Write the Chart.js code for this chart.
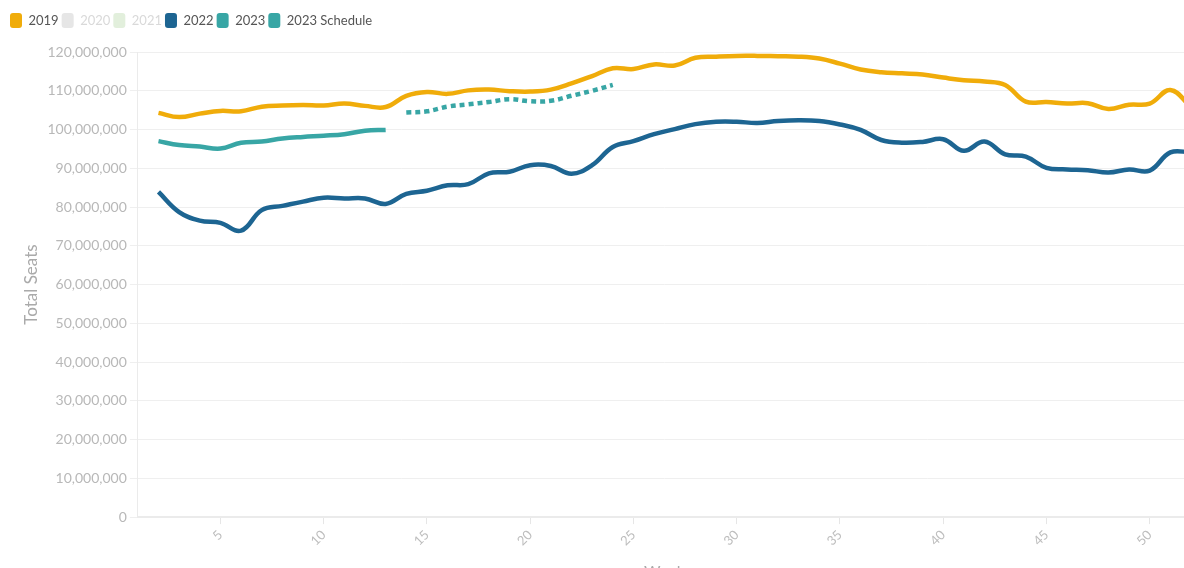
<!DOCTYPE html>
<html>
<head>
<meta charset="utf-8">
<script src="https://cdn.jsdelivr.net/npm/chart.js@4.4.0/dist/chart.umd.min.js"></script>
<style>
  html,body{margin:0;padding:0;background:#fff;overflow:hidden;}
  #wrap{width:1191px;height:585px;}
</style>
</head>
<body>
<div id="wrap"><canvas id="grafico" width="1191" height="585"></canvas></div>
<script>
// weeks on the x axis
const weeks = [2,3,4,5,6,7,8,9,10,11,12,13,14,15,16,17,18,19,20,21,22,23,24,25,26,27,
  28,29,30,31,32,33,34,35,36,37,38,39,40,41,42,43,44,45,46,47,48,49,50,51,52];
const xTicks = [5,10,15,20,25,30,35,40,45,50];

// total seats, millions
const seats2019 = [104.3,103.2,104.1,104.8,104.7,105.9,106.2,106.3,106.2,106.7,106.1,105.8,
  108.7,109.7,109.2,110.1,110.3,109.9,109.8,110.3,111.9,113.8,115.8,115.6,116.8,116.5,
  118.5,118.8,119.0,119.0,118.9,118.8,118.3,117.0,115.5,114.8,114.5,114.2,113.4,112.7,
  112.4,111.5,107.2,107.1,106.7,106.8,105.3,106.4,106.7,110.2,105.8];
const seats2022 = [83.9,78.7,76.5,75.9,73.9,79.2,80.3,81.4,82.4,82.2,82.2,80.8,
  83.4,84.2,85.6,85.9,88.7,89.1,90.8,90.6,88.6,90.8,95.5,97.0,98.8,100.1,
  101.4,102.0,102.0,101.7,102.2,102.4,102.2,101.3,99.9,97.3,96.6,96.8,97.5,94.5,
  96.9,93.6,93.0,90.1,89.7,89.5,88.9,89.7,89.4,94.1,94.1];
const seats2023 = [97.0,96.0,95.6,95.1,96.6,96.9,97.7,98.1,98.4,98.8,99.7,99.9];
const seats2023Schedule = [104.4,104.7,105.9,106.5,107.1,107.8,107.3,107.4,108.7,110.0,111.5];

const years = ["2019","2020","2021","2022","2023","2023 Schedule"];
const colors = ["#f0ac0a","#e6e6e6","#e2efdc","#1d6592","#38a6a5","#38a6a5"];
const legendText = ["#555555","#d9d9d9","#d9d9d9","#555555","#555555","#555555"];

function pontos(semanas, valores){
    return valores.map((v,i)=>({x:semanas[i], y:v*1000000}));
}

const series = [
    pontos(weeks, seats2019),
    [],
    [],
    pontos(weeks, seats2022),
    pontos(weeks.slice(0,12), seats2023),
    pontos(weeks.slice(12,23), seats2023Schedule)
];

const fonte = "Lato, 'Open Sans', sans-serif";

const espacoLegenda = {
    id:"espacoLegenda",
    beforeInit(chart){
        const fitOriginal = chart.legend.fit;
        chart.legend.fit = function(){
            fitOriginal.bind(chart.legend)();
            this.height += 14;
        };
    }
};

const ctx = document.getElementById("grafico").getContext("2d");

new Chart(ctx,{

    type:"line",

    data:{
        datasets: years.map((ano,i)=>({
            label: ano,
            data: series[i],
            borderColor: colors[i],
            backgroundColor: colors[i],
            borderWidth: 4.5,
            borderDash: ano==="2023 Schedule" ? [5,4] : [],
            pointRadius: 0,
            tension: 0.4,
            fill: false
        }))
    },

    options:{

        responsive:false,
        animation:false,
        devicePixelRatio:1,

        layout:{
            padding:{left:7, right:0, top:10, bottom:2}
        },

        plugins:{

            legend:{
                position:"top",
                align:"start",
                labels:{
                    boxWidth:12,
                    boxHeight:15,
                    useBorderRadius:true,
                    borderRadius:3,
                    padding:3,
                    font:{family:fonte, size:13},
                    generateLabels(chart){
                        const itens = Chart.defaults.plugins.legend.labels.generateLabels(chart);
                        itens.forEach((it,i)=>{
                            it.fontColor = legendText[i];
                            it.lineWidth = 0;
                            it.lineDash = [];
                        });
                        return itens;
                    }
                },
                onClick:null
            },

            tooltip:{enabled:false}

        },

        scales:{

            x:{
                type:"linear",
                min:1,
                max:52,
                afterBuildTicks(scale){
                    scale.ticks = xTicks.map(v=>({value:v}));
                },
                grid:{
                    drawOnChartArea:false,
                    drawTicks:true,
                    tickLength:7,
                    color:"#e6e6e6"
                },
                border:{color:"#ebebeb", width:2},
                ticks:{
                    minRotation:45,
                    maxRotation:45,
                    color:"#bdbdbd",
                    font:{family:fonte, size:13}
                },
                title:{
                    display:true,
                    text:"Week",
                    color:"#aaaaaa",
                    font:{family:fonte, size:16},
                    padding:{top:10, bottom:2}
                }
            },

            y:{
                min:0,
                max:120000000,
                grid:{
                    color:"#efefef",
                    tickLength:8
                },
                border:{color:"#ebebeb"},
                ticks:{
                    stepSize:10000000,
                    color:"#b8b8b8",
                    font:{family:fonte, size:14},
                    callback:v=>v.toLocaleString("en-US")
                },
                title:{
                    display:true,
                    text:"Total Seats",
                    color:"#aaaaaa",
                    font:{family:fonte, size:17},
                    padding:{top:14, bottom:3}
                }
            }

        }

    },

    plugins:[espacoLegenda]

});
</script>
</body>
</html>
